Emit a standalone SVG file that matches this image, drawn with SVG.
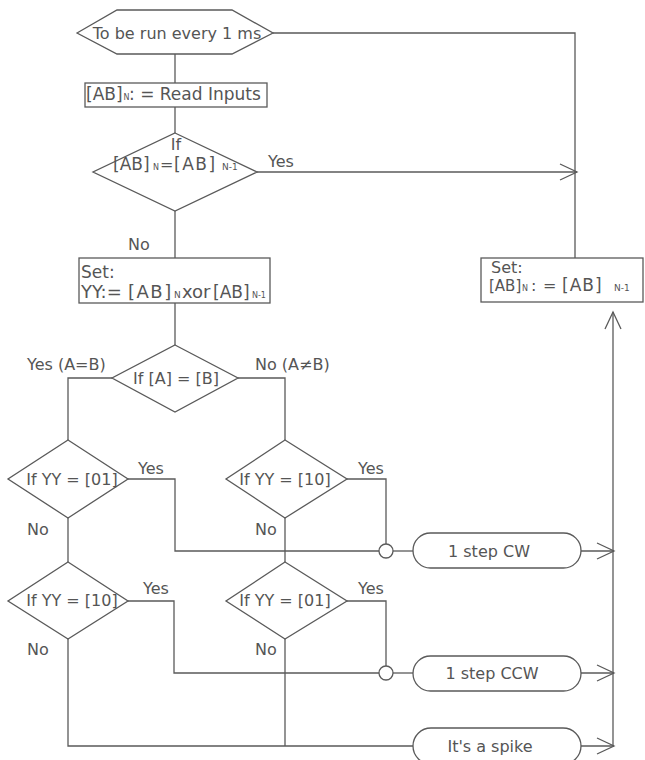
<svg xmlns="http://www.w3.org/2000/svg" width="645" height="760" viewBox="0 0 645 760">
<style>
  .s { fill: #fff; stroke: #5a5a5a; stroke-width: 1.3; }
  .c { fill: none; stroke: #5a5a5a; stroke-width: 1.3; }
  text { font-family: "DejaVu Sans", "Liberation Sans", sans-serif; font-size: 16px; fill: #555; }
  .m { text-anchor: middle; }
  .sub { font-size: 8px; }
  .sub9 { font-size: 9px; }
  .b17 { font-size: 17px; }
  .b18 { font-size: 18px; }
</style>
<defs>
  <marker id="arr" markerUnits="userSpaceOnUse" markerWidth="24" markerHeight="24" viewBox="-20 -10 24 20" refX="0" refY="0" orient="auto">
    <path d="M-17,-8 L0,0 L-17,8" fill="none" stroke="#5a5a5a" stroke-width="1.3"/>
  </marker>
</defs>
<g id="connectors">
  <path class="c" d="M175,54 V83"/>
  <path class="c" d="M175,107 V133"/>
  <path class="c" d="M175,211 V258"/>
  <path class="c" d="M175,303 V345"/>
  <path class="c" d="M273,33 H575 V258"/>
  <path class="c" d="M257,172 H577" marker-end="url(#arr)"/>
  <path class="c" d="M112,378 H68 V440"/>
  <path class="c" d="M238,378 H285 V440"/>
  <path class="c" d="M68,518 V562"/>
  <path class="c" d="M285,518 V562"/>
  <path class="c" d="M128,479 H175 V551 H379"/>
  <path class="c" d="M347,479 H386 V544"/>
  <path class="c" d="M393,551 H413"/>
  <path class="c" d="M128,601 H174 V673 H379"/>
  <path class="c" d="M347,601 H386 V666"/>
  <path class="c" d="M393,673 H413"/>
  <path class="c" d="M68,639 V746 H413"/>
  <path class="c" d="M285,639 V746"/>
  <path class="c" d="M581,551 H614" marker-end="url(#arr)"/>
  <path class="c" d="M581,673 H614" marker-end="url(#arr)"/>
  <path class="c" d="M581,746 H614" marker-end="url(#arr)"/>
  <path class="c" d="M613,746 V312" marker-end="url(#arr)"/>
  <circle class="s" cx="386" cy="551" r="7"/>
  <circle class="s" cx="386" cy="673" r="7"/>
</g>
<g id="start">
  <polygon class="s" points="77,33 117,10 232,10 273,33 232,54 117,54"/>
  <text x="177" y="39" class="m">To be run every 1 ms</text>
</g>
<g id="read">
  <rect class="s" x="85" y="83" width="182" height="24"/>
  <text x="86" y="100" class="b17">[AB]<tspan x="123.5" class="sub">N</tspan><tspan x="129">: = Read Inputs</tspan></text>
</g>
<g id="d1">
  <polygon class="s" points="175,133 257,172 175,211 93,172"/>
  <text x="176" y="150" class="m">If</text>
  <text x="113" y="170" class="b17">[AB]<tspan x="153" class="sub">N</tspan><tspan x="160" font-size="16">=</tspan><tspan x="174" letter-spacing="1.5">[AB]</tspan><tspan x="222" class="sub9">N-1</tspan></text>
  <text x="268" y="167">Yes</text>
  <text x="128" y="250">No</text>
</g>
<g id="setyy">
  <rect class="s" x="79" y="258" width="191" height="45"/>
  <text x="81" y="278" class="b17">Set:</text>
  <text x="81" y="298" class="b18">YY:=<tspan x="128" letter-spacing="1.5">[AB]</tspan><tspan x="174" class="sub9">N</tspan><tspan x="182">xor</tspan><tspan x="213" font-size="17">[AB]</tspan><tspan x="252" class="sub">N-1</tspan></text>
</g>
<g id="setab">
  <rect class="s" x="481" y="258" width="162" height="44"/>
  <text x="491" y="273" font-size="15.5">Set:</text>
  <text x="489" y="291" class="b17"><tspan font-size="15">[AB]</tspan><tspan x="522" class="sub">N</tspan><tspan x="531" font-size="16">:</tspan><tspan x="543" font-size="16">=</tspan><tspan x="562" letter-spacing="1">[AB]</tspan><tspan x="614" class="sub9">N-1</tspan></text>
</g>
<g id="d2">
  <polygon class="s" points="175,345 238,378 175,412 112,378"/>
  <text x="176" y="384" class="m">If [A] = [B]</text>
  <text x="27" y="370">Yes (A=B)</text>
  <text x="255" y="370">No (A≠B)</text>
</g>
<g id="d3">
  <polygon class="s" points="68,440 128,479 68,518 8,479"/>
  <text x="72" y="485" class="m">If YY = [01]</text>
  <text x="138" y="474">Yes</text>
  <text x="27" y="535">No</text>
</g>
<g id="d4">
  <polygon class="s" points="285,440 347,479 285,518 226,479"/>
  <text x="285" y="485" class="m">If YY = [10]</text>
  <text x="358" y="474">Yes</text>
  <text x="255" y="535">No</text>
</g>
<g id="d5">
  <polygon class="s" points="68,562 128,601 68,639 8,601"/>
  <text x="72" y="606" class="m">If YY = [10]</text>
  <text x="143" y="594">Yes</text>
  <text x="27" y="655">No</text>
</g>
<g id="d6">
  <polygon class="s" points="285,562 347,601 285,639 226,601"/>
  <text x="285" y="606" class="m">If YY = [01]</text>
  <text x="358" y="594">Yes</text>
  <text x="255" y="655">No</text>
</g>
<g id="cw">
  <rect class="s" x="413" y="533" width="168" height="35" rx="17.5"/>
  <text x="489" y="557" class="m">1 step CW</text>
</g>
<g id="ccw">
  <rect class="s" x="413" y="656" width="168" height="35" rx="17.5"/>
  <text x="492" y="679" class="m">1 step CCW</text>
</g>
<g id="spike">
  <rect class="s" x="413" y="728" width="168" height="36" rx="18"/>
  <text x="490" y="752" class="m">It's a spike</text>
</g>
</svg>
